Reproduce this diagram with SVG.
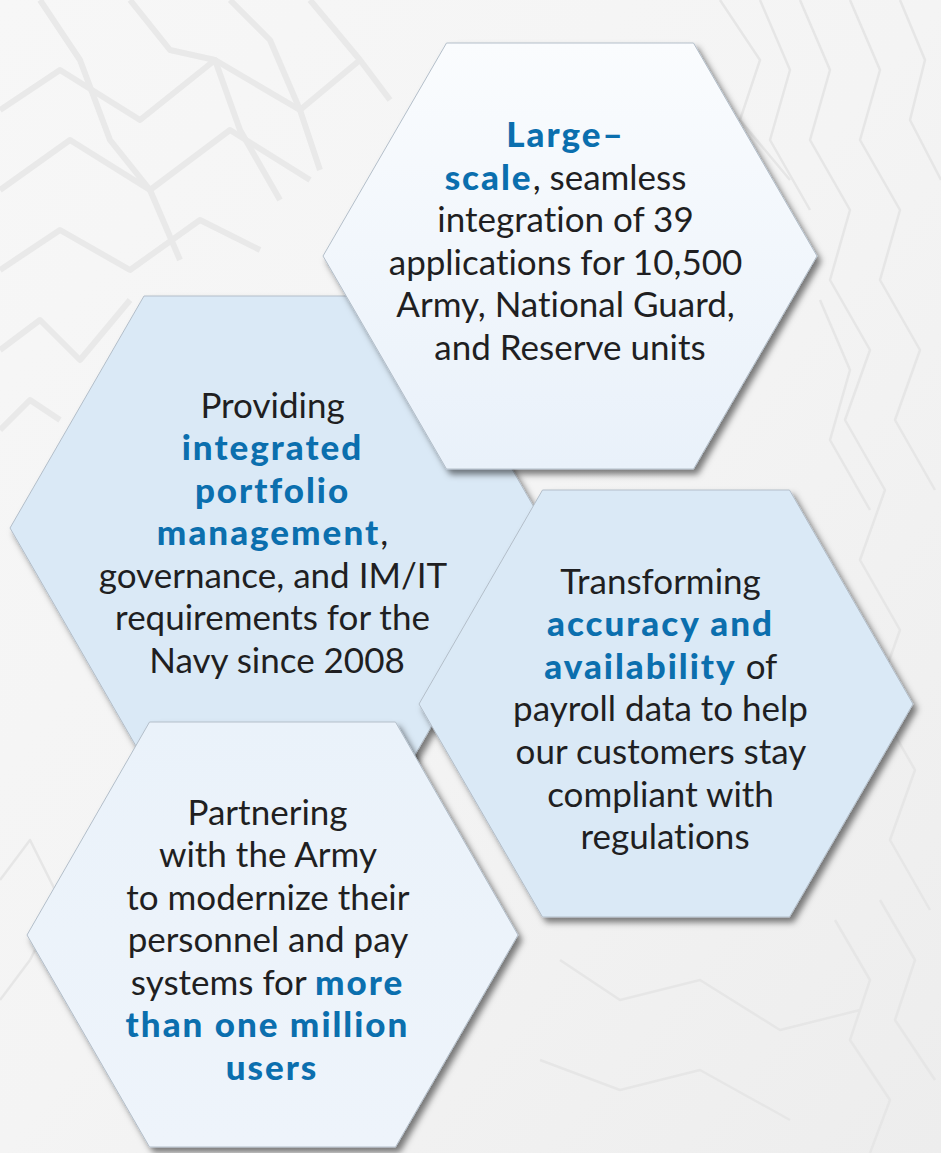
<svg xmlns="http://www.w3.org/2000/svg" width="941" height="1153" viewBox="0 0 941 1153">
  <defs>
    <linearGradient id="bgGrad" x1="0" y1="0" x2="1" y2="1">
      <stop offset="0" stop-color="#f7f7f7"/>
      <stop offset="0.5" stop-color="#f4f4f4"/>
      <stop offset="1" stop-color="#ededed"/>
    </linearGradient>
    <linearGradient id="lightHex" x1="0" y1="0" x2="0" y2="1">
      <stop offset="0" stop-color="#fafcfe"/>
      <stop offset="1" stop-color="#e9f1fa"/>
    </linearGradient>
    <linearGradient id="lightHex2" x1="0" y1="0" x2="0" y2="1">
      <stop offset="0" stop-color="#eaf2fa"/>
      <stop offset="1" stop-color="#eef4fb"/>
    </linearGradient>
    <filter id="shadow" x="-10%" y="-10%" width="125%" height="125%">
      <feDropShadow dx="4" dy="5" stdDeviation="3" flood-color="#000" flood-opacity="0.5"/>
    </filter>
  </defs>
  <style>
    .bgline { fill: none; stroke: #e9e9e9; stroke-width: 6; stroke-linejoin: round; }
    .bgline2 { fill: none; stroke: #e6e6e6; stroke-width: 2.5; stroke-linejoin: round; }
    .hex { stroke: #b3bec9; stroke-width: 1; filter: url(#shadow); }
    .blue { fill: #dae9f6; }
    .t { font-family: Lato, "Open Sans", "Liberation Sans", sans-serif; font-size: 35px; fill: #1f1f22; text-anchor: middle; font-variant-ligatures: none; }
    .b { font-weight: 900; font-size: 35px; letter-spacing: 2px; fill: #0b6fae; }
  </style>

  <g id="background">
    <rect x="0" y="0" width="941" height="1153" fill="url(#bgGrad)"/>
    <path class="bgline" d="M0,110 L60,70 L140,120 L215,60 L300,110 L360,60"/>
    <path class="bgline" d="M0,190 L70,140 L150,190 L230,130 L310,180"/>
    <path class="bgline" d="M0,270 L60,230 L130,270 L200,220 L260,250"/>
    <path class="bgline" d="M40,0 L80,60 L110,140 L150,190 L180,260"/>
    <path class="bgline" d="M130,0 L170,50 L215,60 L240,130 L280,200"/>
    <path class="bgline" d="M230,0 L270,40 L300,110 L320,170"/>
    <path class="bgline" d="M310,0 L360,60 L390,100"/>
    <path class="bgline" d="M0,350 L40,320 L80,360 L130,300"/>
    <path class="bgline" d="M0,430 L30,400 L60,420"/>
    <path class="bgline2" d="M720,0 L760,60 L740,120 L790,180"/>
    <path class="bgline2" d="M800,0 L830,70 L810,140 L850,210 L830,280 L870,350 L845,420 L885,490 L860,560 L900,630 L875,700 L915,770 L890,840 L930,910"/>
    <path class="bgline2" d="M850,0 L880,70 L860,140 L900,210 L880,280 L920,350 L895,420 L935,490"/>
    <path class="bgline2" d="M760,0 L790,70 L770,140 L810,210"/>
    <path class="bgline2" d="M820,300 L850,370 L830,440 L870,510"/>
    <path class="bgline2" d="M900,0 L925,60 L910,120 L941,180"/>
    <path class="bgline2" d="M835,920 L870,980 L850,1040 L890,1100 L870,1153"/>
    <path class="bgline2" d="M880,900 L915,960 L895,1020 L935,1080"/>
    <path class="bgline2" d="M560,960 L620,1000 L700,980 L780,1030 L860,1010"/>
    <path class="bgline2" d="M540,1060 L620,1090 L700,1070 L790,1120"/>
    <path class="bgline2" d="M0,880 L30,840 L60,900 L30,960"/>
    <path class="bgline2" d="M0,1000 L30,960"/>
  </g>

  <g id="connectors"/>

  <g id="node-navy">
    <polygon class="hex blue" points="10,528 144,296 412,296 546,528 412,760 144,760"/>
    <text class="t">
      <tspan x="277" y="418">Providing</tspan>
      <tspan x="277" y="460" class="b">integrated</tspan>
      <tspan x="277" y="503" class="b">portfolio</tspan>
      <tspan x="277" y="545"><tspan class="b">management</tspan>,</tspan>
      <tspan x="277" y="588">governance, and IM/IT</tspan>
      <tspan x="277" y="630">requirements for the</tspan>
      <tspan x="277" y="673">Navy since 2008</tspan>
    </text>
  </g>

  <g id="node-large-scale">
    <polygon class="hex" fill="url(#lightHex)" points="323,256 446.5,43 693.5,43 817,256 693.5,469 446.5,469"/>
    <text class="t">
      <tspan x="570" y="147" class="b">Large–</tspan>
      <tspan x="570" y="190"><tspan class="b">scale</tspan>, seamless</tspan>
      <tspan x="570" y="232">integration of 39</tspan>
      <tspan x="570" y="275">applications for 10,500</tspan>
      <tspan x="570" y="317">Army, National Guard,</tspan>
      <tspan x="570" y="360">and Reserve units</tspan>
    </text>
  </g>

  <g id="node-payroll">
    <polygon class="hex blue" points="419,704 542.5,490 789.5,490 913,704 789.5,917 542.5,917"/>
    <text class="t">
      <tspan x="665" y="594">Transforming</tspan>
      <tspan x="665" y="636" class="b">accuracy and</tspan>
      <tspan x="665" y="679"><tspan class="b">availability</tspan> of</tspan>
      <tspan x="665" y="721">payroll data to help</tspan>
      <tspan x="665" y="764">our customers stay</tspan>
      <tspan x="665" y="807">compliant with</tspan>
      <tspan x="665" y="849">regulations</tspan>
    </text>
  </g>

  <g id="node-army">
    <polygon class="hex" fill="url(#lightHex2)" points="27,935 149.5,722 395.5,722 518,935 395.5,1147 149.5,1147"/>
    <text class="t">
      <tspan x="272" y="825">Partnering</tspan>
      <tspan x="272" y="867">with the Army</tspan>
      <tspan x="272" y="910">to modernize their</tspan>
      <tspan x="272" y="952">personnel and pay</tspan>
      <tspan x="272" y="995">systems for <tspan class="b">more</tspan></tspan>
      <tspan x="272" y="1037" class="b">than one million</tspan>
      <tspan x="272" y="1080" class="b">users</tspan>
    </text>
  </g>
</svg>
